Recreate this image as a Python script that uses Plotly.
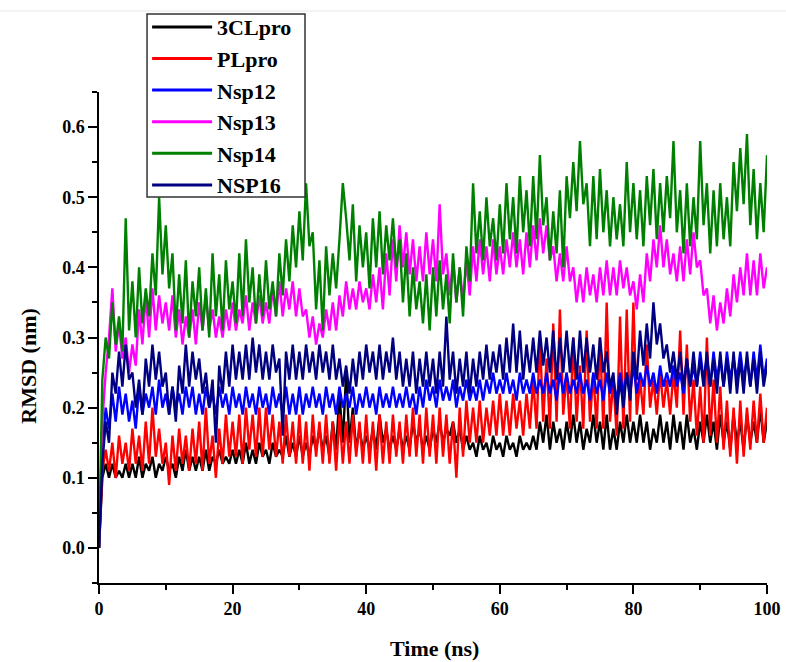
import plotly.graph_objects as go

# Time grid (ns), sampled every 0.5 ns
TIME_NS = [i * 0.5 for i in range(201)]

SERIES_NAMES = ["3CLpro", "PLpro", "Nsp12", "Nsp13", "Nsp14", "NSP16"]
SERIES_COLORS = ["#000000", "#ff0000", "#0000ff", "#ff00ff", "#008000", "#000080"]

RMSD_3CLPRO = [
    0.00, 0.10, 0.12, 0.10, 0.12, 0.10, 0.11, 0.10, 0.12, 0.10,
    0.12, 0.10, 0.13, 0.10, 0.12, 0.11, 0.13, 0.10, 0.12, 0.11,
    0.13, 0.11, 0.12, 0.10, 0.13, 0.11, 0.14, 0.11, 0.13, 0.11,
    0.13, 0.11, 0.14, 0.11, 0.13, 0.12, 0.14, 0.12, 0.13, 0.12,
    0.14, 0.12, 0.14, 0.12, 0.15, 0.12, 0.14, 0.12, 0.15, 0.13,
    0.14, 0.12, 0.15, 0.13, 0.14, 0.13, 0.16, 0.13, 0.15, 0.13,
    0.16, 0.13, 0.15, 0.13, 0.16, 0.14, 0.17, 0.14, 0.16, 0.13,
    0.18, 0.14, 0.22, 0.15, 0.25, 0.15, 0.20, 0.14, 0.17, 0.14,
    0.16, 0.14, 0.17, 0.14, 0.19, 0.15, 0.17, 0.14, 0.16, 0.14,
    0.17, 0.14, 0.16, 0.14, 0.18, 0.15, 0.17, 0.14, 0.16, 0.14,
    0.17, 0.15, 0.18, 0.15, 0.17, 0.16, 0.18, 0.15, 0.17, 0.14,
    0.16, 0.14, 0.15, 0.13, 0.16, 0.14, 0.15, 0.13, 0.16, 0.14,
    0.15, 0.13, 0.16, 0.14, 0.15, 0.13, 0.16, 0.14, 0.15, 0.14,
    0.16, 0.14, 0.18, 0.15, 0.19, 0.14, 0.18, 0.15, 0.17, 0.14,
    0.18, 0.15, 0.19, 0.15, 0.18, 0.14, 0.17, 0.15, 0.19, 0.15,
    0.18, 0.14, 0.19, 0.14, 0.17, 0.14, 0.18, 0.15, 0.19, 0.15,
    0.18, 0.15, 0.19, 0.15, 0.18, 0.14, 0.17, 0.15, 0.19, 0.15,
    0.18, 0.14, 0.19, 0.15, 0.18, 0.14, 0.19, 0.15, 0.17, 0.14,
    0.18, 0.15, 0.19, 0.15, 0.18, 0.14, 0.19, 0.15, 0.18, 0.14,
    0.19, 0.15, 0.18, 0.14, 0.19, 0.15, 0.18, 0.15, 0.20, 0.15,
    0.18,
]

RMSD_PLPRO = [
    0.00, 0.11, 0.14, 0.11, 0.15, 0.10, 0.16, 0.12, 0.15, 0.11,
    0.17, 0.12, 0.16, 0.11, 0.18, 0.12, 0.20, 0.13, 0.17, 0.12,
    0.15, 0.09, 0.16, 0.11, 0.17, 0.12, 0.16, 0.11, 0.17, 0.12,
    0.18, 0.11, 0.20, 0.12, 0.16, 0.10, 0.17, 0.12, 0.19, 0.13,
    0.18, 0.13, 0.19, 0.12, 0.20, 0.14, 0.19, 0.13, 0.20, 0.13,
    0.20, 0.14, 0.19, 0.13, 0.18, 0.12, 0.19, 0.13, 0.18, 0.12,
    0.19, 0.12, 0.18, 0.11, 0.19, 0.13, 0.18, 0.12, 0.19, 0.12,
    0.18, 0.11, 0.19, 0.12, 0.18, 0.12, 0.19, 0.13, 0.18, 0.12,
    0.19, 0.12, 0.18, 0.11, 0.19, 0.12, 0.18, 0.12, 0.19, 0.13,
    0.18, 0.12, 0.19, 0.13, 0.20, 0.13, 0.19, 0.12, 0.20, 0.13,
    0.19, 0.12, 0.20, 0.13, 0.19, 0.12, 0.18, 0.10, 0.20, 0.13,
    0.21, 0.15, 0.20, 0.15, 0.21, 0.15, 0.20, 0.16, 0.21, 0.16,
    0.22, 0.16, 0.21, 0.16, 0.22, 0.17, 0.21, 0.16, 0.22, 0.17,
    0.24, 0.17, 0.30, 0.18, 0.27, 0.17, 0.32, 0.18, 0.34, 0.19,
    0.25, 0.17, 0.30, 0.18, 0.26, 0.17, 0.31, 0.18, 0.25, 0.17,
    0.30, 0.17, 0.35, 0.18, 0.24, 0.16, 0.33, 0.17, 0.34, 0.18,
    0.35, 0.19, 0.24, 0.19, 0.29, 0.20, 0.24, 0.19, 0.25, 0.20,
    0.24, 0.19, 0.25, 0.20, 0.31, 0.19, 0.29, 0.18, 0.24, 0.16,
    0.23, 0.15, 0.30, 0.16, 0.24, 0.15, 0.23, 0.14, 0.21, 0.13,
    0.20, 0.12, 0.21, 0.13, 0.20, 0.14, 0.21, 0.15, 0.22, 0.15,
    0.20,
]

RMSD_NSP12 = [
    0.00, 0.14, 0.20, 0.17, 0.22, 0.18, 0.23, 0.19, 0.22, 0.18,
    0.21, 0.17, 0.23, 0.19, 0.22, 0.20, 0.23, 0.19, 0.24, 0.20,
    0.22, 0.19, 0.23, 0.20, 0.22, 0.19, 0.23, 0.20, 0.23, 0.19,
    0.22, 0.19, 0.23, 0.20, 0.22, 0.19, 0.23, 0.20, 0.22, 0.19,
    0.23, 0.20, 0.22, 0.19, 0.23, 0.20, 0.22, 0.19, 0.23, 0.20,
    0.22, 0.19, 0.23, 0.20, 0.22, 0.19, 0.23, 0.19, 0.22, 0.19,
    0.23, 0.19, 0.22, 0.20, 0.23, 0.20, 0.22, 0.19, 0.23, 0.20,
    0.22, 0.19, 0.23, 0.20, 0.22, 0.20, 0.23, 0.19, 0.22, 0.20,
    0.23, 0.20, 0.22, 0.19, 0.23, 0.20, 0.22, 0.20, 0.23, 0.20,
    0.22, 0.20, 0.23, 0.20, 0.22, 0.19, 0.23, 0.20, 0.24, 0.21,
    0.23, 0.20, 0.24, 0.21, 0.23, 0.21, 0.24, 0.20, 0.23, 0.21,
    0.24, 0.21, 0.23, 0.21, 0.24, 0.21, 0.24, 0.22, 0.25, 0.22,
    0.24, 0.22, 0.25, 0.22, 0.24, 0.21, 0.25, 0.22, 0.24, 0.22,
    0.25, 0.22, 0.24, 0.22, 0.25, 0.22, 0.24, 0.21, 0.25, 0.22,
    0.25, 0.22, 0.24, 0.22, 0.25, 0.22, 0.24, 0.21, 0.25, 0.22,
    0.24, 0.21, 0.25, 0.22, 0.24, 0.21, 0.25, 0.22, 0.25, 0.22,
    0.26, 0.22, 0.25, 0.23, 0.26, 0.23, 0.25, 0.22, 0.26, 0.23,
    0.25, 0.23, 0.26, 0.23, 0.25, 0.22, 0.27, 0.23, 0.26, 0.23,
    0.28, 0.24, 0.27, 0.23, 0.28, 0.24, 0.27, 0.23, 0.28, 0.24,
    0.27, 0.24, 0.28, 0.24, 0.27, 0.23, 0.28, 0.24, 0.29, 0.24,
    0.27,
]

RMSD_NSP13 = [
    0.00, 0.18, 0.25, 0.30, 0.37, 0.28, 0.32, 0.27, 0.30, 0.25,
    0.29, 0.26, 0.34, 0.29, 0.36, 0.30, 0.37, 0.31, 0.36, 0.32,
    0.35, 0.31, 0.36, 0.30, 0.34, 0.29, 0.33, 0.30, 0.34, 0.29,
    0.35, 0.31, 0.36, 0.31, 0.34, 0.30, 0.33, 0.30, 0.34, 0.31,
    0.35, 0.31, 0.34, 0.32, 0.36, 0.31, 0.35, 0.32, 0.36, 0.32,
    0.35, 0.32, 0.37, 0.33, 0.38, 0.33, 0.37, 0.34, 0.38, 0.33,
    0.37, 0.33, 0.34, 0.30, 0.33, 0.29, 0.32, 0.30, 0.34, 0.31,
    0.35, 0.31, 0.36, 0.33, 0.38, 0.34, 0.37, 0.34, 0.38, 0.35,
    0.37, 0.34, 0.39, 0.35, 0.40, 0.34, 0.42, 0.36, 0.44, 0.38,
    0.46, 0.40, 0.45, 0.39, 0.44, 0.38, 0.43, 0.38, 0.45, 0.39,
    0.44, 0.38, 0.49, 0.39, 0.42, 0.36, 0.41, 0.35, 0.40, 0.35,
    0.41, 0.36, 0.43, 0.38, 0.44, 0.39, 0.43, 0.38, 0.44, 0.39,
    0.43, 0.39, 0.44, 0.40, 0.45, 0.40, 0.44, 0.39, 0.45, 0.40,
    0.46, 0.41, 0.47, 0.42, 0.46, 0.41, 0.43, 0.38, 0.42, 0.38,
    0.43, 0.38, 0.40, 0.35, 0.39, 0.35, 0.40, 0.36, 0.39, 0.35,
    0.40, 0.36, 0.41, 0.36, 0.40, 0.36, 0.41, 0.37, 0.40, 0.36,
    0.38, 0.34, 0.39, 0.35, 0.42, 0.38, 0.44, 0.40, 0.46, 0.40,
    0.44, 0.39, 0.42, 0.38, 0.43, 0.38, 0.44, 0.39, 0.45, 0.40,
    0.41, 0.36, 0.37, 0.32, 0.36, 0.31, 0.35, 0.32, 0.37, 0.33,
    0.39, 0.35, 0.40, 0.36, 0.42, 0.36, 0.41, 0.36, 0.42, 0.37,
    0.40,
]

RMSD_NSP14 = [
    0.00, 0.24, 0.30, 0.27, 0.35, 0.29, 0.33, 0.28, 0.47, 0.31,
    0.38, 0.30, 0.40, 0.32, 0.37, 0.33, 0.42, 0.36, 0.50, 0.39,
    0.46, 0.37, 0.42, 0.31, 0.39, 0.32, 0.41, 0.30, 0.38, 0.33,
    0.40, 0.31, 0.37, 0.30, 0.42, 0.33, 0.39, 0.31, 0.41, 0.34,
    0.38, 0.32, 0.42, 0.33, 0.44, 0.35, 0.40, 0.32, 0.39, 0.33,
    0.41, 0.34, 0.38, 0.33, 0.42, 0.36, 0.44, 0.38, 0.46, 0.40,
    0.48, 0.41, 0.52, 0.43, 0.45, 0.34, 0.41, 0.31, 0.43, 0.36,
    0.42, 0.37, 0.44, 0.52, 0.47, 0.41, 0.49, 0.38, 0.46, 0.40,
    0.45, 0.37, 0.47, 0.40, 0.48, 0.39, 0.46, 0.41, 0.47, 0.40,
    0.44, 0.35, 0.42, 0.33, 0.40, 0.34, 0.38, 0.32, 0.39, 0.31,
    0.40, 0.33, 0.41, 0.34, 0.39, 0.32, 0.42, 0.35, 0.40, 0.33,
    0.43, 0.38, 0.52, 0.42, 0.48, 0.41, 0.50, 0.43, 0.47, 0.41,
    0.49, 0.42, 0.52, 0.44, 0.50, 0.42, 0.53, 0.45, 0.51, 0.43,
    0.53, 0.44, 0.56, 0.46, 0.50, 0.41, 0.48, 0.42, 0.51, 0.40,
    0.53, 0.47, 0.55, 0.48, 0.58, 0.49, 0.52, 0.43, 0.53, 0.44,
    0.54, 0.45, 0.51, 0.43, 0.50, 0.44, 0.49, 0.43, 0.55, 0.45,
    0.52, 0.44, 0.51, 0.43, 0.53, 0.46, 0.54, 0.44, 0.52, 0.45,
    0.53, 0.47, 0.58, 0.45, 0.51, 0.42, 0.52, 0.43, 0.50, 0.44,
    0.58, 0.46, 0.52, 0.42, 0.51, 0.43, 0.52, 0.44, 0.50, 0.43,
    0.55, 0.48, 0.57, 0.49, 0.59, 0.46, 0.54, 0.44, 0.52, 0.45,
    0.56,
]

RMSD_NSP16 = [
    0.00, 0.12, 0.18, 0.15, 0.25, 0.22, 0.28, 0.23, 0.29, 0.24,
    0.25, 0.20, 0.24, 0.19, 0.27, 0.23, 0.29, 0.24, 0.28, 0.23,
    0.25, 0.19, 0.23, 0.18, 0.26, 0.22, 0.29, 0.23, 0.28, 0.24,
    0.27, 0.22, 0.25, 0.20, 0.24, 0.15, 0.26, 0.22, 0.28, 0.23,
    0.29, 0.24, 0.28, 0.24, 0.29, 0.24, 0.30, 0.25, 0.29, 0.24,
    0.28, 0.24, 0.29, 0.25, 0.27, 0.16, 0.28, 0.24, 0.29, 0.24,
    0.28, 0.24, 0.29, 0.25, 0.28, 0.24, 0.29, 0.25, 0.28, 0.24,
    0.29, 0.24, 0.27, 0.23, 0.26, 0.22, 0.27, 0.23, 0.28, 0.24,
    0.29, 0.25, 0.28, 0.24, 0.29, 0.24, 0.28, 0.25, 0.30, 0.24,
    0.28, 0.23, 0.27, 0.23, 0.28, 0.22, 0.27, 0.23, 0.28, 0.23,
    0.27, 0.22, 0.28, 0.23, 0.33, 0.24, 0.28, 0.22, 0.27, 0.23,
    0.28, 0.22, 0.27, 0.23, 0.28, 0.24, 0.29, 0.24, 0.28, 0.25,
    0.29, 0.24, 0.30, 0.25, 0.32, 0.25, 0.31, 0.24, 0.29, 0.25,
    0.30, 0.25, 0.31, 0.26, 0.30, 0.25, 0.31, 0.24, 0.30, 0.25,
    0.31, 0.25, 0.30, 0.24, 0.31, 0.25, 0.30, 0.25, 0.29, 0.24,
    0.30, 0.25, 0.28, 0.23, 0.25, 0.19, 0.24, 0.20, 0.25, 0.21,
    0.28, 0.24, 0.31, 0.26, 0.32, 0.27, 0.35, 0.29, 0.32, 0.27,
    0.29, 0.25, 0.28, 0.24, 0.28, 0.23, 0.27, 0.23, 0.28, 0.23,
    0.27, 0.23, 0.28, 0.23, 0.27, 0.22, 0.28, 0.23, 0.27, 0.22,
    0.28, 0.22, 0.27, 0.22, 0.28, 0.23, 0.27, 0.22, 0.28, 0.23,
    0.26,
]

SERIES_VALUES = [RMSD_3CLPRO, RMSD_PLPRO, RMSD_NSP12, RMSD_NSP13, RMSD_NSP14, RMSD_NSP16]

X_TICKS = [0, 20, 40, 60, 80, 100]
Y_TICKS = [0.0, 0.1, 0.2, 0.3, 0.4, 0.5, 0.6]

X_TITLE = "Time (ns)"
Y_TITLE = "RMSD (nm)"

FONT = "Liberation Serif, Times New Roman, serif"

fig = go.Figure()

# data traces
for name, color, vals in zip(SERIES_NAMES, SERIES_COLORS, SERIES_VALUES):
    fig.add_trace(go.Scatter(
        x=TIME_NS, y=vals, mode="lines", name=name,
        line=dict(color=color, width=2.4), showlegend=False,
    ))

# legend-only traces (thicker sample lines)
for name, color in zip(SERIES_NAMES, SERIES_COLORS):
    fig.add_trace(go.Scatter(
        x=[None], y=[None], mode="lines", name=name,
        line=dict(color=color, width=3), showlegend=True,
    ))

axis_common = dict(
    showline=True, linecolor="black", linewidth=1.5,
    ticks="outside", tickcolor="black", tickwidth=1.5, ticklen=9,
    showgrid=False, zeroline=False, mirror=False,
    tickfont=dict(family=FONT, size=18, color="black", weight="bold"),
)

fig.update_xaxes(
    range=[0, 100], tickvals=X_TICKS, ticktext=[str(v) for v in X_TICKS],
    minor=dict(dtick=10, tick0=0, ticks="outside", ticklen=5, tickcolor="black", tickwidth=1.5),
    **axis_common,
)
fig.update_yaxes(
    range=[-0.05, 0.65], tickvals=Y_TICKS, ticktext=[f"{v:.1f}" for v in Y_TICKS],
    minor=dict(dtick=0.05, tick0=0, ticks="outside", ticklen=5, tickcolor="black", tickwidth=1.5),
    **axis_common,
)

title_font = dict(family=FONT, size=22, color="black", weight="bold")
fig.add_annotation(
    text=X_TITLE, xref="paper", yref="paper", x=0.5015, y=-0.133,
    xanchor="center", yanchor="middle", showarrow=False, font=title_font,
)
fig.add_annotation(
    text=Y_TITLE, xref="paper", yref="paper", x=-0.106, y=0.443,
    xanchor="center", yanchor="middle", showarrow=False, textangle=-90, font=title_font,
)

# faint page border line at the very top of the image
fig.add_shape(
    type="line", xref="paper", yref="paper",
    x0=-0.148, x1=1.03, y0=1.165, y1=1.165,
    line=dict(color="#e6e6e6", width=1),
)

# legend frame
fig.add_shape(
    type="rect", xref="paper", yref="paper",
    x0=0.0719, x1=0.3084, y0=0.786, y1=1.159,
    line=dict(color="#333333", width=1.5), fillcolor="white", layer="above",
)

fig.update_layout(
    width=786, height=662,
    margin=dict(l=99, r=19, t=92, b=79, autoexpand=False),
    paper_bgcolor="white", plot_bgcolor="white",
    font=dict(family=FONT, color="black"),
    legend=dict(
        x=0.072, y=1.175, xanchor="left", yanchor="top",
        bgcolor="rgba(0,0,0,0)", borderwidth=0,
        font=dict(family=FONT, size=22, color="black", weight="bold"),
        itemwidth=60, tracegroupgap=0,
    ),
)

fig.write_html("out.html")
